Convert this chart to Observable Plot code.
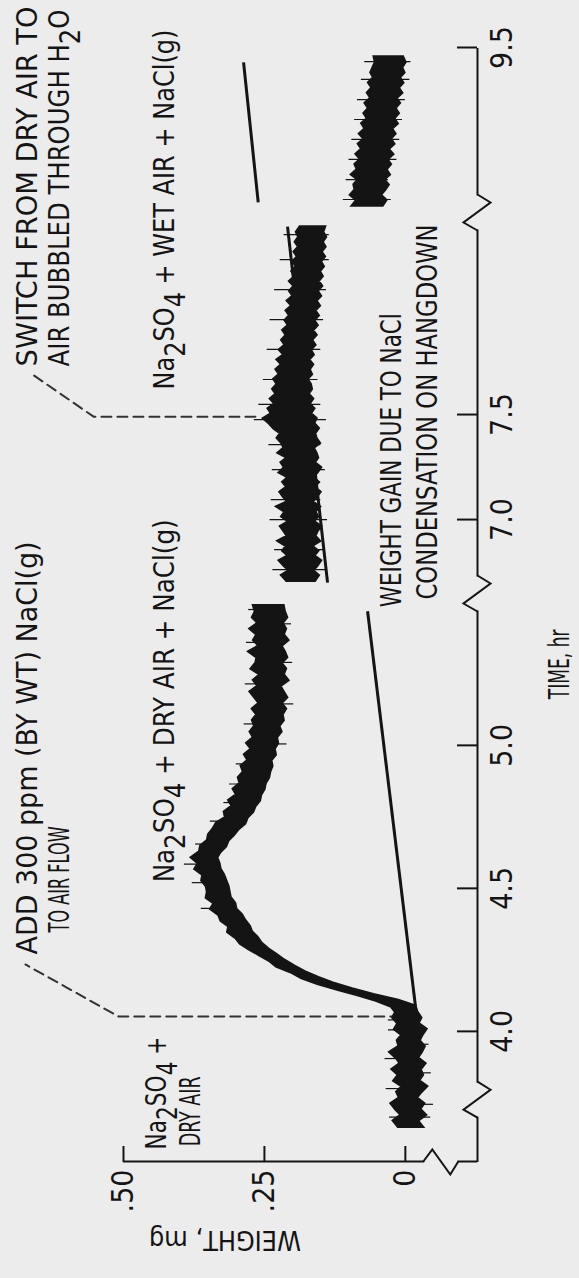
<!DOCTYPE html>
<html><head><meta charset="utf-8">
<script src="https://cdn.jsdelivr.net/npm/d3@7"></script>
<script src="https://cdn.jsdelivr.net/npm/@observablehq/plot@0.6"></script>
<style>
html,body{margin:0;padding:0;background:#ececec;}
#wrap{position:relative;width:579px;height:1278px;overflow:hidden;background:#ececec;}
#wrap svg{position:absolute;left:0;top:0;max-width:none !important;width:1278px !important;height:579px !important;transform-origin:0 0;transform:translate(0,1278px) rotate(-90deg);}
</style></head><body><div id="wrap"></div>
<script>
// ---------- axes ----------
const timeTicks = [4.0, 4.5, 5.0, 7.0, 7.5, 9.5];
const weightTicks = [0, 0.25, 0.5];
// broken time axis: piecewise domain (gaps collapse onto the break marks)
const timeDomain = [3.545, 5.531, 6.648, 8.462, 8.714, 9.5];
const weightDomain = [-0.128, 0.5];
const timeBreaks = [3.761, 5.531, 8.462];
const weightBreaks = [-0.062];

// ---------- trace 1: Na2SO4 + dry air, then + NaCl(g) ----------
const seg1Start = 3.67, seg1Step = 0.02;
const seg1Hi = [0.012,0.020,0.006,0.016,0.024,0.009,0.014,0.004,0.019,0.011,0.022,0.008,0.015,0.026,0.010,0.013,0.005,0.018,0.012,0.021,0.016,0.024,
 0.050,0.084,0.120,0.155,0.183,0.202,0.228,0.240,0.258,0.276,
 0.292,0.300,0.314,0.312,0.326,0.330,0.344,0.338,0.352,0.350,
 0.352,0.360,0.358,0.372,0.366,0.378,0.364,0.362,0.350,0.348,
 0.340,0.334,0.318,0.320,0.306,0.312,0.298,0.304,0.292,0.295,
 0.286,0.290,0.278,0.284,0.272,0.280,0.268,0.274,0.266,0.270,
 0.262,0.270,0.258,0.266,0.274,0.260,0.268,0.256,0.272,0.264,
 0.262,0.276,0.258,0.268,0.262,0.274,0.260,0.270,0.265,0.268];
const seg1Lo = [-0.030,-0.022,-0.036,-0.026,-0.033,-0.020,-0.028,-0.038,-0.024,-0.031,-0.027,-0.035,-0.022,-0.029,-0.034,-0.025,-0.030,-0.037,-0.023,-0.028,-0.021,-0.018,
 0.012,0.056,0.094,0.128,0.154,0.178,0.197,0.214,0.228,0.243,
 0.255,0.262,0.272,0.276,0.284,0.290,0.300,0.302,0.310,0.312,
 0.314,0.318,0.322,0.328,0.330,0.334,0.328,0.318,0.314,0.304,
 0.296,0.284,0.280,0.270,0.266,0.258,0.256,0.250,0.248,0.242,
 0.240,0.236,0.238,0.230,0.232,0.226,0.228,0.220,0.224,0.216,
 0.218,0.212,0.220,0.210,0.216,0.222,0.208,0.216,0.212,0.220,
 0.210,0.214,0.220,0.208,0.216,0.212,0.218,0.210,0.214,0.216];

// ---------- trace 2: dry air + NaCl(g), then wet air ----------
const seg2Start = 6.714, seg2Step = 0.023347;
const seg2Hi = [0.210,0.218,0.204,0.214,0.222,0.206,0.216,0.210,0.224,0.208,
 0.214,0.220,0.205,0.218,0.212,0.226,0.207,0.215,0.221,0.209,
 0.216,0.206,0.222,0.213,0.219,0.208,0.224,0.214,0.218,0.226,
 0.220,0.232,0.240,0.250,
 0.236,0.242,0.230,0.238,0.228,0.234,
 0.226,0.232,0.222,0.228,0.218,0.226,0.214,0.222,0.212,0.218,
 0.210,0.216,0.206,0.212,0.204,0.210,0.200,0.208,0.198,0.204,
 0.196,0.204,0.194,0.200,0.192,0.198,0.190,0.196,0.188,0.194,
 0.188,0.192,0.186];
const seg2Lo = [0.160,0.154,0.164,0.156,0.150,0.162,0.155,0.166,0.152,0.160,
 0.156,0.150,0.163,0.155,0.160,0.152,0.165,0.157,0.151,0.162,
 0.154,0.164,0.156,0.150,0.161,0.155,0.158,0.163,0.152,0.158,
 0.160,0.154,0.162,0.158,
 0.168,0.162,0.170,0.164,0.172,0.166,
 0.168,0.174,0.166,0.170,0.164,0.171,0.163,0.168,0.160,0.166,
 0.158,0.164,0.156,0.162,0.154,0.160,0.152,0.158,0.150,0.156,
 0.148,0.154,0.147,0.152,0.145,0.150,0.143,0.149,0.142,0.147,
 0.141,0.146,0.143];

// ---------- trace 3: wet air + NaCl(g), late ----------
const seg3Start = 8.752, seg3Step = 0.02431;
const seg3Hi = [0.092,0.085,0.096,0.088,0.090,0.082,0.094,0.084,0.088,0.078,
 0.086,0.076,0.082,0.072,0.080,0.070,0.076,0.066,0.072,0.064,
 0.070,0.060,0.066,0.058,0.064,0.055,0.060,0.056,0.052,0.054];
const seg3Lo = [0.040,0.034,0.044,0.036,0.030,0.038,0.028,0.034,0.026,0.032,
 0.022,0.030,0.020,0.026,0.018,0.024,0.014,0.020,0.012,0.018,
 0.010,0.016,0.006,0.012,0.004,0.010,0.002,0.006,0.000,0.004];

// ---------- recorder noise spikes (time, low, high) ----------
const spikeTime = [3.70,3.745,3.80,3.855,3.905,3.955,4.005,4.04,
 4.43,4.52,4.585,4.655,4.735,4.80,4.865,4.935,5.005,5.075,5.145,5.215,5.29,5.36,5.425,5.475,
 6.762,6.857,7.0,7.095,7.238,7.357,7.476,7.548,7.667,7.81,7.952,8.095,8.238,8.357,
 8.776,8.871,8.967,9.062,9.157,9.252,9.348,9.433];
const spikeLo = [-0.045,-0.050,-0.020,-0.046,-0.012,-0.042,-0.036,-0.020,
 0.315,0.325,0.335,0.325,0.290,0.266,0.248,0.236,0.210,0.238,0.198,0.246,0.200,0.242,0.202,0.240,
 0.140,0.145,0.138,0.150,0.142,0.150,0.140,0.150,0.155,0.150,0.145,0.140,0.135,0.135,
 0.025,0.030,0.015,0.010,0.005,0.000,-0.008,-0.010];
const spikeHi = [0.028,0.002,0.034,-0.010,0.036,0.004,0.030,0.030,
 0.362,0.378,0.392,0.372,0.346,0.322,0.312,0.300,0.262,0.286,0.244,0.284,0.238,0.282,0.232,0.278,
 0.235,0.232,0.240,0.238,0.236,0.242,0.268,0.260,0.252,0.245,0.240,0.232,0.222,0.215,
 0.110,0.105,0.100,0.095,0.090,0.085,0.078,0.072];

// ---------- hangdown condensation baselines ----------
const baseStartTime = [4.087, 6.700, 8.762];
const baseEndTime = [5.469, 8.395, 9.429];
const baseStartWeight = [-0.018, 0.138, 0.261];
const baseEndWeight = [0.067, 0.209, 0.287];

// ---------- dashed event leaders ----------
const leaderId = ["nacl","nacl","nacl","switch","switch","switch"];
const leaderTime = [4.052, 4.052, 4.234, 7.490, 7.490, 7.690];
const leaderWeight = [0.009, 0.509, 0.674, 0.266, 0.553, 0.661];

// ---------- annotations ----------
const annotText = ["ADD 300 ppm (BY WT) NaCl(g)", "TO AIR FLOW",
  "Na2SO4 + DRY AIR + NaCl(g)", "Na2SO4 +", "DRY AIR",
  "Na2SO4 + WET AIR + NaCl(g)", "SWITCH FROM DRY AIR TO", "AIR BUBBLED THROUGH H2O",
  "WEIGHT GAIN DUE TO NaCl", "CONDENSATION ON HANGDOWN", "TIME, hr"];
const annotTime = [4.269, 4.346, 4.521, 3.587, 3.598, 7.619, 7.729, 7.729, 5.483, 5.510, 5.161];
const annotWeight = [0.670, 0.612, 0.426, 0.440, 0.381, 0.426, 0.670, 0.612, 0.023, -0.041, -0.275];
const yLabel = "WEIGHT, mg";
const yLabelWeight = 0.32;

// ---------- styling ----------
const FONT = "'Liberation Sans Narrow','DejaVu Sans Condensed','Liberation Sans',sans-serif";
const INK = "#141414", BG = "#ececec";
const textLengths = {"ADD 300 ppm (BY WT) NaCl(g)":413,"TO AIR FLOW":106,"Na2SO4 + DRY AIR + NaCl(g)":363,
  "Na2SO4 +":113,"DRY AIR":70,"Na2SO4 + WET AIR + NaCl(g)":360,"SWITCH FROM DRY AIR TO":360,
  "AIR BUBBLED THROUGH H2O":357,"WEIGHT GAIN DUE TO NaCl":294,"CONDENSATION ON HANGDOWN":375,
  "TIME, hr":70,"WEIGHT, mg":152};

// ---------- tables ----------
const mk = (start, step, hi, lo) => hi.map((h, i) => ({t: start + i * step, hi: h, lo: lo[i]}));
const seg1 = mk(seg1Start, seg1Step, seg1Hi, seg1Lo);
const seg2 = mk(seg2Start, seg2Step, seg2Hi, seg2Lo);
const seg3 = mk(seg3Start, seg3Step, seg3Hi, seg3Lo);
const spikes = spikeTime.map((t, i) => ({t, lo: spikeLo[i], hi: spikeHi[i]}));
const bases = baseStartTime.map((t, i) => ({t1: t, t2: baseEndTime[i], w1: baseStartWeight[i], w2: baseEndWeight[i]}));
const leaders = leaderId.map((id, i) => ({id, t: leaderTime[i], w: leaderWeight[i]}));
const annots = annotText.map((s, i) => ({s, t: annotTime[i], w: annotWeight[i]}));

const zigX = {draw(c){c.moveTo(18,0);c.lineTo(10,13);c.lineTo(-10,-14);c.lineTo(-18,0);}};
const eraseX = {draw(c){c.moveTo(-17,0);c.lineTo(17,0);}};
const zigY = {draw(c){c.moveTo(0,-17);c.lineTo(12,-8);c.lineTo(-13,10);c.lineTo(0,18);}};
const eraseY = {draw(c){c.moveTo(0,-16);c.lineTo(0,17);}};
const fmtW = d => d === 0 ? "0" : d3.format(".2f")(d).replace(/^0/, "");

const W = 1278, H = 579, mL = 116, mR = 48, mT = 123, mB = 102;
const traceStyle = {x: "t", y1: "lo", y2: "hi", fill: INK, stroke: INK, strokeWidth: 3.5, strokeLinejoin: "miter", strokeMiterlimit: 6};
const chart = Plot.plot({
  width: W, height: H, marginLeft: mL, marginRight: mR, marginTop: mT, marginBottom: mB,
  style: {background: "transparent", fontFamily: FONT, color: INK, overflow: "visible"},
  x: {type: "linear", domain: timeDomain, range: [116, 684, 684, 1065, 1065, 1230]},
  y: {type: "linear", domain: weightDomain, range: [H - mB, mT]},
  marks: [
    Plot.ruleY([weightDomain[0]], {stroke: INK, strokeWidth: 2}),
    Plot.ruleX([timeDomain[0]], {stroke: INK, strokeWidth: 2}),
    Plot.tickX(timeTicks, {x: d => d, insetTop: (H - mT - mB) - 20, stroke: INK, strokeWidth: 2}),
    Plot.tickY(weightTicks, {y: d => d, insetRight: (W - mL - mR) - 16, stroke: INK, strokeWidth: 2}),
    Plot.dot(timeBreaks, {x: d => d, frameAnchor: "bottom", symbol: eraseX, stroke: BG, strokeWidth: 6, fill: "none"}),
    Plot.dot(timeBreaks, {x: d => d, frameAnchor: "bottom", symbol: zigX, stroke: INK, strokeWidth: 2, fill: "none"}),
    Plot.dot(weightBreaks, {y: d => d, frameAnchor: "left", symbol: eraseY, stroke: BG, strokeWidth: 6, fill: "none"}),
    Plot.dot(weightBreaks, {y: d => d, frameAnchor: "left", symbol: zigY, stroke: INK, strokeWidth: 2, fill: "none"}),
    Plot.axisX({ticks: timeTicks, tickSize: 0, tickPadding: 13, tickFormat: d3.format(".1f"), fontSize: 30, label: null}),
    Plot.axisY({ticks: weightTicks, tickSize: 0, tickPadding: 8, tickFormat: fmtW, fontSize: 30, label: null}),
    Plot.line(leaders, {x: "t", y: "w", z: "id", stroke: "#333", strokeWidth: 2, strokeDasharray: "10,6"}),
    Plot.link(bases, {x1: "t1", y1: "w1", x2: "t2", y2: "w2", stroke: INK, strokeWidth: 3}),
    Plot.areaY(seg1, traceStyle),
    Plot.areaY(seg2, traceStyle),
    Plot.areaY(seg3, traceStyle),
    Plot.ruleX(spikes, {x: "t", y1: "lo", y2: "hi", stroke: INK, strokeWidth: 1.2}),
    Plot.text(annots, {x: "t", y: "w", text: "s", textAnchor: "start", lineAnchor: "middle", fontSize: 28, fill: INK}),
    Plot.text([yLabel], {y: () => yLabelWeight, frameAnchor: "left", rotate: -90, dx: -78, textAnchor: "middle", fontSize: 26, fill: INK})
  ]
});
document.getElementById("wrap").appendChild(chart);

// subscripts and per-line set widths
chart.querySelectorAll("text").forEach(el => {
  const s = el.textContent;
  if (textLengths[s]) {
    el.setAttribute("textLength", textLengths[s]);
    el.setAttribute("lengthAdjust", "spacingAndGlyphs");
  }
  if (/Na2SO4|H2O/.test(s)) {
    el.textContent = "";
    let shifted = false;
    const add = (str, sub) => {
      const ts = document.createElementNS("http://www.w3.org/2000/svg", "tspan");
      ts.textContent = str;
      if (sub && !shifted) { ts.setAttribute("dy", "0.38em"); shifted = true; }
      else if (!sub && shifted) { ts.setAttribute("dy", "-0.38em"); shifted = false; }
      el.appendChild(ts);
    };
    for (const p of s.split(/(Na2SO4|H2O)/)) {
      if (p === "Na2SO4") { add("Na"); add("2", true); add("SO"); add("4", true); }
      else if (p === "H2O") { add("H"); add("2", true); add("O"); }
      else if (p) add(p);
    }
  }
});
</script></body></html>
